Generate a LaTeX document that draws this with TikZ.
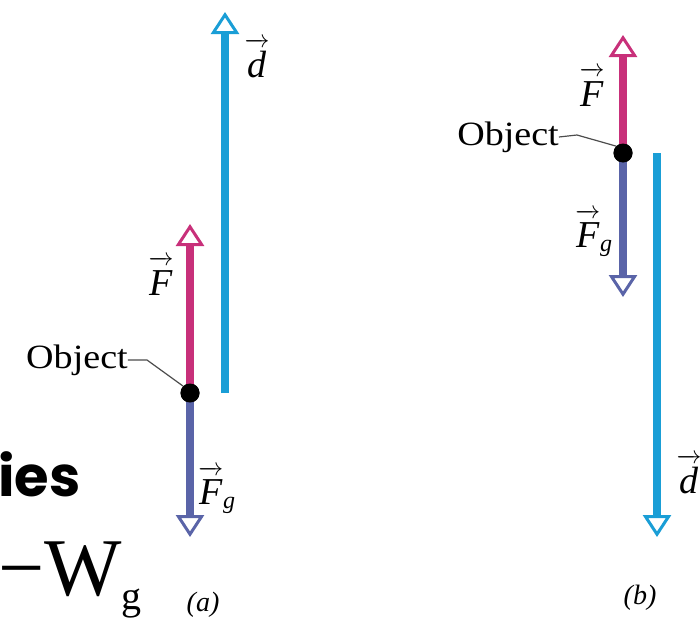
\documentclass[tikz,border=0pt]{standalone}
\usepackage{fontspec}
\setmainfont{Liberation Serif}
\newfontfamily\boldsans{Poppins}
\usetikzlibrary{arrows.meta}
\definecolor{fpink}{HTML}{C8307A}
\definecolor{fgblue}{HTML}{5A64A8}
\definecolor{dcyan}{HTML}{1A9ED6}
\newcommand{\vlab}[1]{$\overrightarrow{\hbox{\itshape\rule{0pt}{0.8em}#1}}$}
\newcommand{\vlabg}{$\overrightarrow{\hbox{\itshape\rule{0pt}{0.8em}F}}_{\hbox{\fontsize{24}{26}\selectfont\itshape g}}$}
\begin{document}
\begin{tikzpicture}[x=1pt,y=-1pt,
  vec/.style={line width=8pt, -{Triangle[open, length=22pt, width=28pt, line width=3pt]}},
  objdot/.style={circle, fill=black, inner sep=0pt, minimum size=19pt},
  lbl/.style={font=\fontsize{38}{40}\selectfont, inner sep=0pt},
  objlbl/.style={font=\fontsize{34}{36}\selectfont, inner sep=0pt},
  captxt/.style={font=\fontsize{28}{30}\selectfont\itshape, inner sep=0pt},
  leader/.style={draw=black!70, line width=1.2pt}]
\useasboundingbox (0,0) rectangle (700,621);
% ---------- panel (a)
\node[objdot] (dotA) at (190,393) {};
\coordinate (FtipA) at (190,224);
\coordinate (FgtipA) at (190,537);
\coordinate (dbotA) at (225,393);
\coordinate (dtopA) at (225,12);
\draw[vec, fpink] (dotA.center) -- (FtipA);
\draw[vec, fgblue] (dotA.center) -- (FgtipA);
\draw[vec, dcyan] (dbotA) -- (dtopA);
\node[objdot] at (dotA) {};
\node[lbl] (dA) at (257,58) {\vlab{d}};
\node[lbl] (FA) at (161,276) {\vlab{F}};
\node[lbl] (FgA) at (217,490) {\vlabg};
\node[objlbl] (objA) at (77,360) {\scalebox{1.12}[1]{Object}};
\coordinate (kA) at (147,360);
\draw[leader] (objA.east) -- (kA) -- (dotA.north west);
\node[captxt] (capA) at (203,605) {(a)};
% ---------- panel (b)
\node[objdot] (dotB) at (623,153) {};
\coordinate (FtipB) at (623,35);
\coordinate (FgtipB) at (623,297);
\coordinate (dtopB) at (657,153);
\coordinate (dbotB) at (657,537);
\draw[vec, fpink] (dotB.center) -- (FtipB);
\draw[vec, fgblue] (dotB.center) -- (FgtipB);
\draw[vec, dcyan] (dtopB) -- (dbotB);
\node[objdot] at (dotB) {};
\node[lbl] (FB) at (592,87) {\vlab{F}};
\node[lbl] (FgB) at (594,233) {\vlabg};
\node[lbl] (dB) at (689,474) {\vlab{d}};
\node[objlbl] (objB) at (508,137) {\scalebox{1.12}[1]{Object}};
\coordinate (kB) at (577,135);
\draw[leader] (objB.east) -- (kB) -- (dotB.north west);
\node[captxt] (capB) at (640,598) {(b)};
% ---------- cropped slide text
\node[anchor=west, inner sep=0pt, font=\boldsans\bfseries\fontsize{56}{58}\selectfont] (ies) at (-2,474) {ies};
\node[anchor=west, inner sep=0pt, font=\fontsize{82}{84}\selectfont] (wg) at (-2,580) {−W\raisebox{-14pt}{\fontsize{40}{42}\selectfont g}};
\end{tikzpicture}
\end{document}
